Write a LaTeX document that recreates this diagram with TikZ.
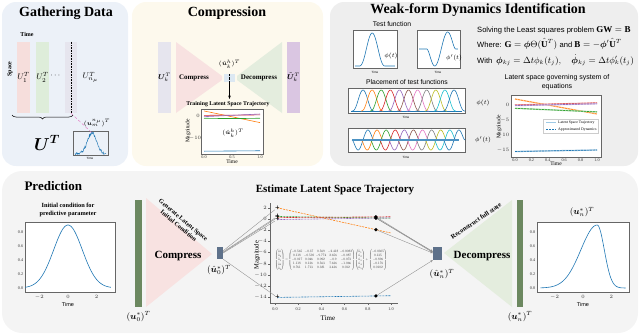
\documentclass[tikz,border=0pt]{standalone}
\usepackage{amsmath}
\usepackage{amssymb}
\usepackage{bm}
\usepackage{fontspec}
\setmainfont{Liberation Serif}
\setsansfont{Liberation Sans}
\usetikzlibrary{arrows.meta,positioning,calc,decorations.pathreplacing}
\definecolor{wfblue}{RGB}{31,119,180}
\definecolor{wforange}{RGB}{255,127,14}
\definecolor{wfgreen}{RGB}{44,160,44}
\definecolor{wfred}{RGB}{214,39,40}
\definecolor{wfpurple}{RGB}{148,103,189}
\definecolor{wfbrown}{RGB}{140,86,75}
\definecolor{wfpink}{RGB}{227,119,194}
\definecolor{wfgray}{RGB}{127,127,127}
\definecolor{wfolive}{RGB}{188,189,34}
\definecolor{wfcyan}{RGB}{23,190,207}
\definecolor{wflight}{RGB}{158,202,230}
\definecolor{bgdata}{RGB}{236,241,248}
\definecolor{bgcomp}{RGB}{253,249,237}
\definecolor{bgweak}{RGB}{238,238,238}
\definecolor{bgpred}{RGB}{244,244,244}
\definecolor{barpink}{RGB}{246,222,220}
\definecolor{bargreen}{RGB}{222,237,218}
\definecolor{barlav}{RGB}{230,229,238}
\definecolor{barpurple}{RGB}{218,198,226}
\definecolor{cmppink}{RGB}{248,226,225}
\definecolor{dcmgreen}{RGB}{228,237,222}
\definecolor{latblue}{RGB}{220,232,242}
\definecolor{stgreen}{RGB}{108,136,96}
\definecolor{stslate}{RGB}{94,113,138}
\tikzset{
  pnl/.style={rounded corners=14pt, draw=none},
  ttl/.style={font=\bfseries\fontsize{14}{16}\selectfont},
  sttl/.style={font=\bfseries\fontsize{6.3}{7.5}\selectfont, align=center, inner sep=0pt},
  sftxt/.style={font=\sffamily\fontsize{6.8}{8.5}\selectfont, inner sep=0pt, align=center},
  tk/.style={font=\fontsize{4.2}{5}\selectfont, text=black!80, inner sep=0.6pt},
  axlbl/.style={font=\fontsize{5.5}{6}\selectfont, inner sep=0pt},
  axbox/.style={draw=black!60, line width=0.4pt},
  crv/.style={line width=0.6pt},
  dcrv/.style={line width=0.6pt, dash pattern=on 2pt off 1pt},
  lnk/.style={draw=black!45, line width=0.35pt},
  plusmk/.style={inner sep=0pt, font=\bfseries\fontsize{8}{8}\selectfont},
  dotmk/.style={circle, fill=black, inner sep=0pt, minimum size=3.6pt},
  colbar/.style={draw=none, minimum width=12pt, minimum height=71pt, inner sep=0pt},
  latbox/.style={draw=none, fill=stslate, inner sep=0pt},
}

\begin{document}
\begin{tikzpicture}[x=1pt,y=-1pt]
\useasboundingbox (0,0) rectangle (640,335);
% panels
\fill[bgdata,pnl] (2,2) rectangle (128,166);
\fill[bgcomp,pnl] (132,2) rectangle (323,166);
\fill[bgweak,pnl] (330,2) rectangle (638,166);
\fill[bgpred,pnl,rounded corners=20pt] (2,171) rectangle (638,333);

%% gathering data
\node[ttl] (tdata) at (66,13) {Gathering Data};
\node[font=\bfseries\fontsize{6}{7}\selectfont] (ttime) at (27,34) {Time};
\node[font=\bfseries\fontsize{6}{7}\selectfont,rotate=90] (tspace) at (10,69) {Space};
\node[colbar,fill=barpink] (c1) at (23.5,77.5) {\fontsize{8}{9}\selectfont$U_1^T$};
\node[colbar,fill=bargreen] (c2) at (42.5,77.5) {\fontsize{8}{9}\selectfont$U_2^T$};
\node (cdots) at (56,76) {\fontsize{8}{9}\selectfont$\cdots$};
\node[colbar,fill=barlav] (cn) at (71,77.5) {};
\draw[densely dotted,line width=0.6pt] (cn.north) -- (cn.south);
\node[right=2pt of cn] (cnl) {\fontsize{8}{9}\selectfont$U_{n_\mu}^T$};
\draw[decorate,decoration={brace,mirror,amplitude=4pt},line width=0.5pt] (12,115) -- (73,115);
\node (ubig) at (47,143) {\fontsize{17}{19}\selectfont$\bm{U}^{\bm{T}}$};
\draw[axbox] (73,131) rectangle (108,155);
\begin{scope}[shift={(75,154)},xscale=31,yscale=-21]
  \pgfmathsetseed{7}
  \draw[wfblue,line width=0.5pt] plot[domain=0:1,samples=70] (\x,{exp(-((\x-0.55)^2)/0.045)+0.06*rand});
  \coordinate (pk) at (0.55,1);
\end{scope}
\node[font=\fontsize{6.5}{7}\selectfont] (pkl) at (97,123) {$(\bm{u}_{m}^{n_\mu})^T$};
\node[font=\sffamily\fontsize{3}{3.5}\selectfont] at (90,158.5) {Time};
\draw[densely dashed,wfpink,line width=0.4pt] (cn.south) -- (pk);

%% compression
\node[ttl] (tcomp) at (227,13) {Compression};
\node[colbar,fill=barlav,minimum width=11pt] (uk) at (164.5,77.5) {\fontsize{7.5}{8}\selectfont$\bm{U}_k^T$};
\fill[cmppink] (176,42) -- (176,113) -- (222,80) -- (222,76) -- cycle;
\node[font=\bfseries\fontsize{7}{8}\selectfont] (tcmp) at (194,78) {Compress};
\node[fill=latblue,minimum width=11pt,minimum height=8pt,inner sep=0pt] (lat) at (229.5,78) {};
\draw[densely dotted,line width=0.4pt] (lat.north) -- (lat.south);
\node[font=\fontsize{6.5}{7}\selectfont] (latl) at (229.5,64) {$(\hat{\bm{u}}_k^h)^T$};
\fill[dcmgreen] (237,76) -- (237,80) -- (282,113) -- (282,42) -- cycle;
\node[font=\bfseries\fontsize{7}{8}\selectfont] (tdcm) at (259,78) {Decompress};
\node[colbar,fill=barpurple,minimum width=11pt] (ukt) at (293.5,77.5) {\fontsize{7.5}{8}\selectfont$\tilde{\bm{U}}_k^T$};
\coordinate (trtop) at (229.5,99);
\draw[-{Stealth[length=3.5pt]},line width=0.5pt] (lat.south) -- (trtop);
\node[sttl,font=\bfseries\fontsize{5.8}{7}\selectfont] (ttrain) at (228,104) {Training Latent Space Trajectory};
\draw[axbox,fill=white] (201,109) rectangle (263,154);
\begin{scope}[shift={(204,116)},xscale=56,yscale=-2.2]
  \draw[wforange,crv] (0,2.3) -- (1,-3);
  \draw[wfred,crv] (0,0.3) -- (1,0.5);
  \draw[wfpurple,crv] (0,-0.3) -- (1,0.9);
  \draw[wfgreen,crv] plot[domain=0:1,samples=20,smooth] (\x,{-1.0-0.6*\x+0.6*\x*\x});
  \draw[wfblue,crv] (0,-16) -- (1,-15.8);
\end{scope}
\node[font=\fontsize{6.5}{7}\selectfont] (latl2) at (233,133) {$(\hat{\bm{u}}_k^h)^T$};
\node[tk] at (198,116) {$0$};
\node[tk] at (195,138) {$-10$};
\foreach \t/\lb in {0/0.0,0.5/0.5,1/1.0} \node[tk] at ({204+56*\t},157) {\lb};
\node[axlbl] at (232,162) {Time};
\node[axlbl,rotate=90] at (188,131) {Magnitude};

%% weak-form dynamics identification
\node[ttl] (tweak) at (478,10) {Weak-form Dynamics Identification};
\node[sftxt] (ttest) at (392,24) {Test function};
\draw[axbox,fill=white] (353,30) rectangle (397,68);
\begin{scope}[shift={(355,66)},xscale=40,yscale=-33]
  \draw[wfblue,crv] plot[domain=0:1,samples=60] (\x,{(max(0,1-((\x-0.43)/0.33)^2))^3});
\end{scope}
\node[font=\fontsize{6}{7}\selectfont] at (391,56) {$\phi(t)$};
\node[font=\sffamily\fontsize{3}{3.5}\selectfont] at (375,72) {Time};
\draw[axbox,fill=white] (417,30) rectangle (460,68);
\begin{scope}[shift={(419,49)},xscale=39,yscale=-17]
  \draw[wfblue,crv] plot[domain=0:1,samples=60] (\x,{((\x-0.57)/0.37)*(max(0,1-((\x-0.57)/0.37)^2))^2/0.286});
\end{scope}
\node[font=\fontsize{6}{7}\selectfont] at (454,58) {$\phi'(t)$};
\node[font=\sffamily\fontsize{3}{3.5}\selectfont] at (438,72) {Time};

\node[sftxt] (tplace) at (407,82) {Placement of test functions};
\draw[axbox,fill=white] (348,88) rectangle (465,113);
\begin{scope}[shift={(0,111)},yscale=-21]
  \draw[wfblue,crv] (351,0) -- (462,0);
  \foreach \c/\col in {363/wfblue,372.1/wforange,381.2/wfgreen,390.3/wfred,399.4/wfpurple,408.5/wfbrown,417.6/wfpink,426.7/wfgray,435.8/wfolive,444.9/wfcyan,454/wfblue}
    \draw[\col,crv] plot[domain=\c-11:\c+11,samples=30,smooth] (\x,{(max(0,1-((\x-\c)/11)^2))^3});
\end{scope}
\node[font=\fontsize{6}{7}\selectfont] at (483,103) {$\phi(t)$};
\node[font=\sffamily\fontsize{3}{3.5}\selectfont] at (406,117.5) {Time};
\draw[axbox,fill=white] (348,128) rectangle (465,152);
\begin{scope}[shift={(0,140)},yscale=-10]
  \foreach \c/\col in {363/wfblue,372.1/wforange,381.2/wfgreen,390.3/wfred,399.4/wfpurple,408.5/wfbrown,417.6/wfpink,426.7/wfgray,435.8/wfolive,444.9/wfcyan,454/wfblue}
    \draw[\col,crv] plot[domain=\c-11:\c+11,samples=30,smooth] (\x,{((\x-\c)/11)*(max(0,1-((\x-\c)/11)^2))^2/0.286});
  \draw[wfblue!80,line width=1.3pt] (352,0) -- (459,0);
\end{scope}
\node[font=\fontsize{6}{7}\selectfont] at (483,140) {$\phi'(t)$};
\node[font=\sffamily\fontsize{3}{3.5}\selectfont] at (406,157.5) {Time};

\node[sftxt,anchor=west,font=\sffamily\fontsize{7.6}{9}\selectfont] (tsolve) at (477,30) {Solving the Least squares problem \fontsize{9}{10}\selectfont$\mathbf{G}\mathbf{W}=\mathbf{B}$};
\node[sftxt,anchor=west,font=\sffamily\fontsize{7.6}{9}\selectfont] (twhere) at (477,44) {Where: \fontsize{9}{10}\selectfont$\mathbf{G}=\bm{\phi}\Theta(\hat{\mathbf{U}}^T)$ \fontsize{7.6}{9}\selectfont and \fontsize{9}{10}\selectfont$\mathbf{B}=-\bm{\phi}'\hat{\mathbf{U}}^T$};
\node[sftxt,anchor=west,font=\sffamily\fontsize{7.6}{9}\selectfont] (twith) at (477,60) {With\enspace \fontsize{8.6}{10}\selectfont$\bm{\phi}_{kj}=\Delta t\phi_k(t_j),\quad \dot{\bm{\phi}}_{kj}=\Delta t\phi_k'(t_j)$};
\node[sftxt,font=\sffamily\fontsize{7}{8.8}\selectfont] (tgov) at (557,82) {Latent space governing system of\\equations};
\draw[axbox,fill=white] (511,95) rectangle (601,157);
\begin{scope}[shift={(515,105)},xscale=82,yscale=-3]
  \foreach \col/\va/\vb in {wforange/2/-3,wfred/0/0.7,wfpurple/-0.2/0.4,wfgreen/-1.1/-2.3,wfblue/-15.5/-15} {
    \draw[\col!45,line width=1.3pt] (0,\va) -- (1,\vb);
    \draw[\col,dcrv] (0,\va) -- (1,\vb);
  }
\end{scope}
\draw[fill=white,draw=black!20,line width=0.3pt] (543,119) rectangle (598,133);
\draw[wflight,line width=0.8pt] (546,122.5) -- (556,122.5);
\node[anchor=west,font=\fontsize{3.8}{4}\selectfont,inner sep=0pt] at (558,122.5) {Latent Space Trajectory};
\draw[wfblue,dcrv] (546,129.5) -- (556,129.5);
\node[anchor=west,font=\fontsize{3.8}{4}\selectfont,inner sep=0pt] at (558,129.5) {Approximated Dynamics};
\foreach \v in {0,-5,-10,-15} \node[tk,anchor=east] at (510,{105-3*\v}) {$\v$};
\foreach \t in {0.0,0.2,0.4,0.6,0.8,1.0} \node[tk] at ({515+82*\t},160) {\t};
\node[axlbl] at (556,164) {Time};
\node[axlbl,rotate=90] at (499,127) {Magnitude};

%% prediction
\node[ttl,anchor=west,font=\bfseries\fontsize{13}{15}\selectfont] (tpred) at (21,186) {Prediction};
\node[sttl] (tinit) at (68,210) {Initial condition for\\predictive parameter};
\draw[axbox,fill=white] (25,222) rectangle (115,292);
\begin{scope}[shift={(68,288)},xscale=14.3,yscale=-70]
  \draw[wfblue,crv] plot[domain=-3:3,samples=80,smooth] (\x,{0.9*exp(-\x*\x/2)});
\end{scope}
\foreach \v in {0.0,0.2,0.4,0.6,0.8} \node[tk,anchor=east] at (24,{288-70*\v}) {\v};
\foreach \t in {-2,0,2} \node[tk] at ({68+14.3*\t},297) {$\t$};
\node[font=\sffamily\fontsize{5.5}{6}\selectfont] at (68,305) {Time};

\node[draw=none,fill=stgreen,minimum width=7pt,minimum height=107pt,inner sep=0pt] (u0) at (138.5,253.5) {};
\node[below=1pt of u0,font=\fontsize{9}{10}\selectfont] (u0l) {$(\bm{u}_0^*)^T$};
\fill[cmppink] (146,198) -- (146,307) -- (212,254) -- cycle;
\node[font=\bfseries\fontsize{11}{12}\selectfont] (tcmp2) at (178,256) {Compress};
\node[sttl,font=\bfseries\fontsize{6.3}{7.3}\selectfont,rotate=-40] (tgen) at (181,223) {Generate Latent Space\\Initial Condition};
\node[latbox,minimum width=6pt,minimum height=12pt] (l0) at (220,253) {};
\node[font=\fontsize{9}{10}\selectfont] (l0l) at (219,270) {$(\hat{\bm{u}}_0^*)^T$};

\node[font=\bfseries\fontsize{11}{12}\selectfont] (test) at (335,190) {Estimate Latent Space Trajectory};
\draw[axbox] (270,203) -- (270,303) -- (398,303);
\foreach \v in {2,0,-2,-4,-6,-8,-10,-12,-14} {
  \draw[black!60,line width=0.3pt] (270,{219-5.6*\v}) -- (268,{219-5.6*\v});
  \node[tk,anchor=east] at (267.5,{219-5.6*\v}) {$\v$};
}
\foreach \t in {0.0,0.2,0.4,0.6,0.8,1.0} {
  \draw[black!60,line width=0.3pt] ({275+116*\t},303) -- ({275+116*\t},305);
  \node[tk] at ({275+116*\t},309) {\t};
}
\node[font=\fontsize{7}{8}\selectfont] at (328,318) {Time};
\node[font=\fontsize{6.5}{7}\selectfont,rotate=90] at (257,255) {Magnitude};
\begin{scope}[shift={(275,219)},xscale=116,yscale=-5.6]
  \foreach \nm/\col/\va/\vb in {so/wforange/2/-2.5,sg/wfgreen/0.45/0.15,sr/wfred/0.25/0.4,sp/wfpurple/-0.1/0.2,sb/wfblue/-14/-13.7} {
    \draw[\col,dcrv] (0.02,\va) -- (1,\vb);
    \node[plusmk] (\nm0) at (0.02,\va) {+};
    \node[dotmk] (\nm1) at (0.87,{\va+(\vb-\va)*0.85/0.98}) {};
  }
\end{scope}
\node[inner sep=0pt,text=black!85] (meq) at (331,260) {\resizebox{112pt}{!}{\setlength{\arraycolsep}{2.5pt}$\begin{pmatrix}\dot{\hat{u}}_1\\\dot{\hat{u}}_2\\\dot{\hat{u}}_3\\\dot{\hat{u}}_4\\\dot{\hat{u}}_5\end{pmatrix}=\begin{pmatrix}-0.565&-0.37&0.569&-2.418&-0.0082\\0.118&-0.539&-9.774&2.656&-0.087\\-0.017&0.046&0.092&-0.9&-0.073\\1.118&0.136&0.563&7.636&-1.066\\0.761&1.713&0.381&3.436&0.012\end{pmatrix}\begin{pmatrix}\hat{u}_1\\\hat{u}_2\\\hat{u}_3\\\hat{u}_4\\\hat{u}_5\end{pmatrix}+\begin{pmatrix}-0.0305\\0.135\\-0.896\\-0.176\\0.0102\end{pmatrix}$}};

\node[latbox,minimum width=9pt,minimum height=13pt] (ln) at (437.5,253.5) {};
\node[font=\fontsize{9}{10}\selectfont] (lnl) at (442,274) {$(\hat{\bm{u}}_n^*)^T$};
\foreach \nm/\a in {so/35,sg/20,sr/10,sp/0} \draw[lnk] (l0.\a) -- (\nm0);
\draw[lnk] (l0.south east) -- (sb0);
\foreach \nm/\a in {so/175,sg/168,sr/162,sp/156} \draw[lnk,-{Stealth[length=2.5pt,width=2pt]}] (\nm1) -- (ln.\a);
\draw[lnk,-{Stealth[length=2.5pt,width=2pt]}] (sb1) -- (ln.south west);

\fill[dcmgreen] (444,253) -- (512,200) -- (512,307) -- cycle;
\node[font=\bfseries\fontsize{11}{12}\selectfont] (tdcm2) at (482,256) {Decompress};
\node[sttl,font=\bfseries\fontsize{6.5}{7.5}\selectfont,rotate=34] (trec) at (476,221) {Reconstruct full state};
\node[draw=none,fill=stgreen,minimum width=6pt,minimum height=107pt,inner sep=0pt] (un) at (520,253.5) {};
\node[below=1pt of un,font=\fontsize{9}{10}\selectfont] (unl) {$(\bm{u}_n^*)^T$};
\node[font=\fontsize{9}{10}\selectfont] (unt) at (582,212) {$(\bm{u}_n^*)^T$};
\draw[axbox,fill=white] (537,222) rectangle (629,292);
\begin{scope}[shift={(583,288)},xscale=14.2,yscale=-70]
  \draw[wfblue,crv] plot[domain=-3:1,samples=50,smooth] (\x,{0.9*exp(-(\x-1)^2/(2*1.15^2))});
  \draw[wfblue,crv] plot[domain=1:3,samples=40,smooth] (\x,{0.9*exp(-(\x-1)^2/(2*0.5^2))});
\end{scope}
\foreach \v in {0.0,0.2,0.4,0.6,0.8} \node[tk,anchor=east] at (536,{288-70*\v}) {\v};
\foreach \t in {-2,0,2} \node[tk] at ({583+14.2*\t},297) {$\t$};
\node[font=\sffamily\fontsize{5.5}{6}\selectfont] at (583,305) {Time};
\end{tikzpicture}
\end{document}
